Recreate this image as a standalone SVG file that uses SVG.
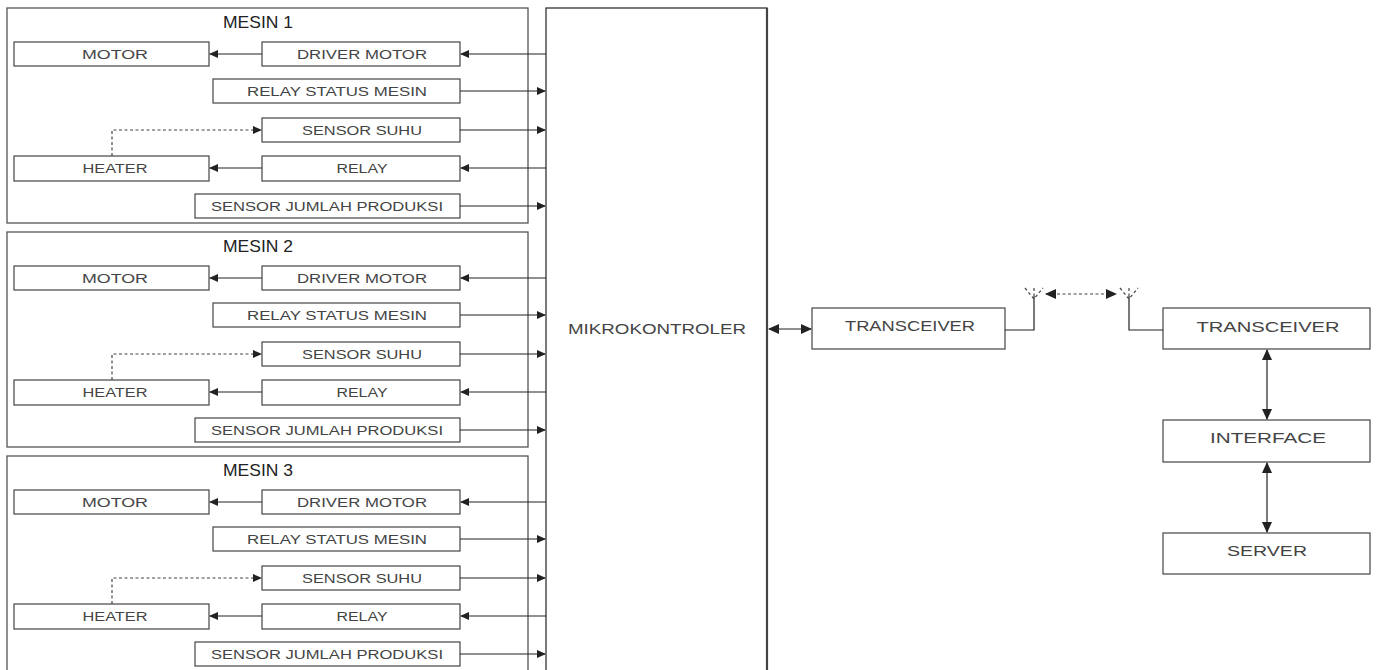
<svg xmlns="http://www.w3.org/2000/svg" width="1381" height="670" viewBox="0 0 1381 670">
<style>
.frame{fill:#fff;stroke:#555;stroke-width:1.3}
.box{fill:#fff;stroke:#444;stroke-width:1.2}
.lbl{font-family:"Liberation Sans",Arial,sans-serif;font-size:12px;fill:#444;text-anchor:middle}
.big{font-family:"Liberation Sans",Arial,sans-serif;font-size:14px;fill:#444;text-anchor:middle}
.ttl{font-family:"Liberation Sans",Arial,sans-serif;font-size:17px;fill:#222;text-anchor:middle}
.ln{stroke:#222;stroke-width:1.2;fill:none}
.dash{stroke:#444;stroke-width:1.2;fill:none;stroke-dasharray:3,2.5}
</style>
<defs>
<marker id="ah" markerUnits="userSpaceOnUse" markerWidth="9" markerHeight="8" refX="8" refY="4" orient="auto-start-reverse">
<path d="M0,0 L9,4 L0,8 z" fill="#222"/>
</marker>
<marker id="ahb" markerUnits="userSpaceOnUse" markerWidth="11" markerHeight="10" refX="10" refY="5" orient="auto-start-reverse">
<path d="M0,0 L11,5 L0,10 z" fill="#222"/>
</marker>
</defs>
<rect width="1381" height="670" fill="#fff"/>

<g id="mesin1">
<rect class="frame" x="7" y="8" width="521" height="215"/>
<text class="ttl" x="258" y="28" textLength="70" lengthAdjust="spacingAndGlyphs">MESIN 1</text>
<g id="m1-motor"><rect class="box" x="14" y="42" width="195" height="24"/><text class="lbl" x="115" y="58.5" textLength="66" lengthAdjust="spacingAndGlyphs">MOTOR</text></g>
<g id="m1-driver"><rect class="box" x="262" y="42" width="198" height="24"/><text class="lbl" x="362" y="58.5" textLength="130" lengthAdjust="spacingAndGlyphs">DRIVER MOTOR</text></g>
<g id="m1-rsm"><rect class="box" x="213" y="79" width="247" height="24"/><text class="lbl" x="337" y="95.5" textLength="180" lengthAdjust="spacingAndGlyphs">RELAY STATUS MESIN</text></g>
<g id="m1-suhu"><rect class="box" x="262" y="118" width="198" height="24"/><text class="lbl" x="362" y="134.5" textLength="120" lengthAdjust="spacingAndGlyphs">SENSOR SUHU</text></g>
<g id="m1-heater"><rect class="box" x="14" y="156" width="195" height="25"/><text class="lbl" x="115" y="173" textLength="65" lengthAdjust="spacingAndGlyphs">HEATER</text></g>
<g id="m1-relay"><rect class="box" x="262" y="156" width="198" height="25"/><text class="lbl" x="362" y="173" textLength="51" lengthAdjust="spacingAndGlyphs">RELAY</text></g>
<g id="m1-sjp"><rect class="box" x="195" y="194" width="265" height="24"/><text class="lbl" x="327" y="210.5" textLength="232" lengthAdjust="spacingAndGlyphs">SENSOR JUMLAH PRODUKSI</text></g>
</g>

<g id="mesin2">
<rect class="frame" x="7" y="232" width="521" height="215"/>
<text class="ttl" x="258" y="252" textLength="70" lengthAdjust="spacingAndGlyphs">MESIN 2</text>
<g id="m2-motor"><rect class="box" x="14" y="266" width="195" height="24"/><text class="lbl" x="115" y="282.5" textLength="66" lengthAdjust="spacingAndGlyphs">MOTOR</text></g>
<g id="m2-driver"><rect class="box" x="262" y="266" width="198" height="24"/><text class="lbl" x="362" y="282.5" textLength="130" lengthAdjust="spacingAndGlyphs">DRIVER MOTOR</text></g>
<g id="m2-rsm"><rect class="box" x="213" y="303" width="247" height="24"/><text class="lbl" x="337" y="319.5" textLength="180" lengthAdjust="spacingAndGlyphs">RELAY STATUS MESIN</text></g>
<g id="m2-suhu"><rect class="box" x="262" y="342" width="198" height="24"/><text class="lbl" x="362" y="358.5" textLength="120" lengthAdjust="spacingAndGlyphs">SENSOR SUHU</text></g>
<g id="m2-heater"><rect class="box" x="14" y="380" width="195" height="25"/><text class="lbl" x="115" y="397" textLength="65" lengthAdjust="spacingAndGlyphs">HEATER</text></g>
<g id="m2-relay"><rect class="box" x="262" y="380" width="198" height="25"/><text class="lbl" x="362" y="397" textLength="51" lengthAdjust="spacingAndGlyphs">RELAY</text></g>
<g id="m2-sjp"><rect class="box" x="195" y="418" width="265" height="24"/><text class="lbl" x="327" y="434.5" textLength="232" lengthAdjust="spacingAndGlyphs">SENSOR JUMLAH PRODUKSI</text></g>
</g>

<g id="mesin3">
<rect class="frame" x="7" y="456" width="521" height="230"/>
<text class="ttl" x="258" y="476" textLength="70" lengthAdjust="spacingAndGlyphs">MESIN 3</text>
<g id="m3-motor"><rect class="box" x="14" y="490" width="195" height="24"/><text class="lbl" x="115" y="506.5" textLength="66" lengthAdjust="spacingAndGlyphs">MOTOR</text></g>
<g id="m3-driver"><rect class="box" x="262" y="490" width="198" height="24"/><text class="lbl" x="362" y="506.5" textLength="130" lengthAdjust="spacingAndGlyphs">DRIVER MOTOR</text></g>
<g id="m3-rsm"><rect class="box" x="213" y="527" width="247" height="24"/><text class="lbl" x="337" y="543.5" textLength="180" lengthAdjust="spacingAndGlyphs">RELAY STATUS MESIN</text></g>
<g id="m3-suhu"><rect class="box" x="262" y="566" width="198" height="24"/><text class="lbl" x="362" y="582.5" textLength="120" lengthAdjust="spacingAndGlyphs">SENSOR SUHU</text></g>
<g id="m3-heater"><rect class="box" x="14" y="604" width="195" height="25"/><text class="lbl" x="115" y="621" textLength="65" lengthAdjust="spacingAndGlyphs">HEATER</text></g>
<g id="m3-relay"><rect class="box" x="262" y="604" width="198" height="25"/><text class="lbl" x="362" y="621" textLength="51" lengthAdjust="spacingAndGlyphs">RELAY</text></g>
<g id="m3-sjp"><rect class="box" x="195" y="642" width="265" height="24"/><text class="lbl" x="327" y="658.5" textLength="232" lengthAdjust="spacingAndGlyphs">SENSOR JUMLAH PRODUKSI</text></g>
</g>

<g id="mikrokontroler">
<rect x="546" y="8" width="221" height="680" fill="#fff" stroke="#333" stroke-width="1.3"/>
<line x1="767" y1="8" x2="767" y2="670" stroke="#444" stroke-width="2.2"/>
<text class="big" x="657" y="334" textLength="178" lengthAdjust="spacingAndGlyphs">MIKROKONTROLER</text>
</g>

<g id="transceiver1"><rect class="box" x="812" y="308" width="193" height="41"/><text class="big" x="910" y="331" textLength="130" lengthAdjust="spacingAndGlyphs">TRANSCEIVER</text></g>
<g id="transceiver2"><rect class="box" x="1163" y="308" width="207" height="41"/><text class="big" x="1268" y="332" textLength="143" lengthAdjust="spacingAndGlyphs">TRANSCEIVER</text></g>
<g id="interface"><rect class="box" x="1163" y="420" width="207" height="42"/><text class="big" x="1268" y="443" textLength="116" lengthAdjust="spacingAndGlyphs">INTERFACE</text></g>
<g id="server"><rect class="box" x="1163" y="533" width="207" height="41"/><text class="big" x="1267" y="556" textLength="80" lengthAdjust="spacingAndGlyphs">SERVER</text></g>
<g id="antenna1"><path class="ln" d="M1005,330 H1034 V296" stroke-width="1.6"/><path class="dash" d="M1025,288 L1034,299 L1043,288 M1034,288 V296" stroke-dasharray="2.5,1.5"/></g>
<g id="antenna2"><path class="ln" d="M1163,330 H1129 V296" stroke-width="1.6"/><path class="dash" d="M1120,288 L1129,299 L1138,288 M1129,288 V296" stroke-dasharray="2.5,1.5"/></g>

<g id="connectors">
<g id="c-m1">
<line class="ln" x1="546" y1="54" x2="461" y2="54" marker-end="url(#ah)"/>
<line class="ln" x1="262" y1="54" x2="210" y2="54" marker-end="url(#ah)"/>
<line class="ln" x1="460" y1="91" x2="545" y2="91" marker-end="url(#ah)"/>
<line class="ln" x1="460" y1="130" x2="545" y2="130" marker-end="url(#ah)"/>
<path class="dash" d="M112,156 V130 H261" marker-end="url(#ah)"/>
<line class="ln" x1="546" y1="168" x2="461" y2="168" marker-end="url(#ah)"/>
<line class="ln" x1="262" y1="168" x2="210" y2="168" marker-end="url(#ah)"/>
<line class="ln" x1="460" y1="206" x2="545" y2="206" marker-end="url(#ah)"/>
</g>
<g id="c-m2">
<line class="ln" x1="546" y1="278" x2="461" y2="278" marker-end="url(#ah)"/>
<line class="ln" x1="262" y1="278" x2="210" y2="278" marker-end="url(#ah)"/>
<line class="ln" x1="460" y1="315" x2="545" y2="315" marker-end="url(#ah)"/>
<line class="ln" x1="460" y1="354" x2="545" y2="354" marker-end="url(#ah)"/>
<path class="dash" d="M112,380 V354 H261" marker-end="url(#ah)"/>
<line class="ln" x1="546" y1="392" x2="461" y2="392" marker-end="url(#ah)"/>
<line class="ln" x1="262" y1="392" x2="210" y2="392" marker-end="url(#ah)"/>
<line class="ln" x1="460" y1="430" x2="545" y2="430" marker-end="url(#ah)"/>
</g>
<g id="c-m3">
<line class="ln" x1="546" y1="502" x2="461" y2="502" marker-end="url(#ah)"/>
<line class="ln" x1="262" y1="502" x2="210" y2="502" marker-end="url(#ah)"/>
<line class="ln" x1="460" y1="539" x2="545" y2="539" marker-end="url(#ah)"/>
<line class="ln" x1="460" y1="578" x2="545" y2="578" marker-end="url(#ah)"/>
<path class="dash" d="M112,604 V578 H261" marker-end="url(#ah)"/>
<line class="ln" x1="546" y1="616" x2="461" y2="616" marker-end="url(#ah)"/>
<line class="ln" x1="262" y1="616" x2="210" y2="616" marker-end="url(#ah)"/>
<line class="ln" x1="460" y1="654" x2="545" y2="654" marker-end="url(#ah)"/>
</g>
<line class="ln" x1="769" y1="329" x2="811" y2="329" stroke-width="1.8" marker-start="url(#ahb)" marker-end="url(#ahb)"/>
<line class="dash" x1="1046" y1="294" x2="1116" y2="294" stroke-width="1.4" marker-start="url(#ahb)" marker-end="url(#ahb)"/>
<line class="ln" x1="1267" y1="350" x2="1267" y2="419" stroke-width="1.8" marker-start="url(#ahb)" marker-end="url(#ahb)"/>
<line class="ln" x1="1267" y1="463" x2="1267" y2="532" stroke-width="1.8" marker-start="url(#ahb)" marker-end="url(#ahb)"/>
</g>
</svg>
